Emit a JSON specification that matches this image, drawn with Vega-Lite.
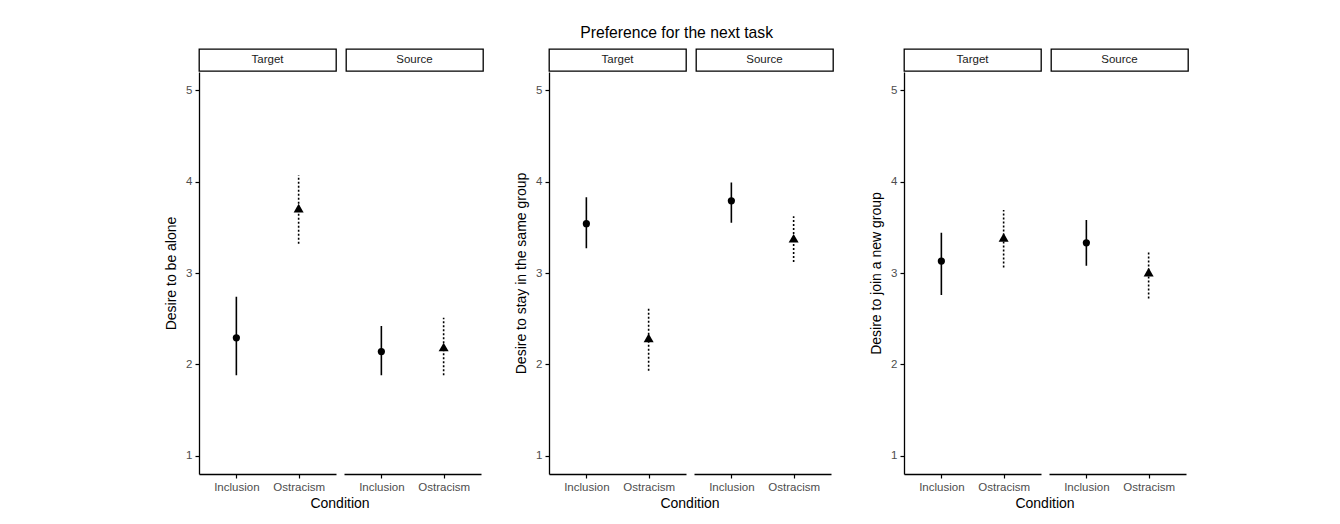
{
  "$schema": "https://vega.github.io/schema/vega-lite/v6.json",
  "background": "white",
  "padding": {"left": 164, "top": 24, "right": 5, "bottom": 5},
  "title": {"text": "Preference for the next task", "fontSize": 15.7, "font": "Liberation Sans", "fontWeight": "normal", "anchor": "middle", "color": "black", "offset": 7},
  "datasets": {
    "strips": [{"role": "Target"}, {"role": "Source"}],
    "alone": [
      {"role": "Target", "condition": "Inclusion", "mean": 2.29, "lo": 1.88, "hi": 2.74},
      {"role": "Target", "condition": "Ostracism", "mean": 3.71, "lo": 3.32, "hi": 4.07},
      {"role": "Source", "condition": "Inclusion", "mean": 2.14, "lo": 1.88, "hi": 2.42},
      {"role": "Source", "condition": "Ostracism", "mean": 2.19, "lo": 1.88, "hi": 2.51}
    ],
    "same": [
      {"role": "Target", "condition": "Inclusion", "mean": 3.54, "lo": 3.27, "hi": 3.83},
      {"role": "Target", "condition": "Ostracism", "mean": 2.29, "lo": 1.93, "hi": 2.63},
      {"role": "Source", "condition": "Inclusion", "mean": 3.79, "lo": 3.55, "hi": 3.99},
      {"role": "Source", "condition": "Ostracism", "mean": 3.38, "lo": 3.12, "hi": 3.62}
    ],
    "newgroup": [
      {"role": "Target", "condition": "Inclusion", "mean": 3.13, "lo": 2.76, "hi": 3.44},
      {"role": "Target", "condition": "Ostracism", "mean": 3.39, "lo": 3.06, "hi": 3.69},
      {"role": "Source", "condition": "Inclusion", "mean": 3.33, "lo": 3.08, "hi": 3.58},
      {"role": "Source", "condition": "Ostracism", "mean": 3.01, "lo": 2.72, "hi": 3.23}
    ]
  },
  "hconcat": [
    {
      "hconcat": [
        {
          "vconcat": [
            {
              "data": {"name": "strips"},
              "facet": {"column": {"field": "role", "type": "nominal", "sort": ["Target", "Source"], "header": {"labels": false, "title": null}}},
              "spacing": {"column": 8},
              "spec": {
                "width": 137, "height": 22,
                "view": {"stroke": "black", "strokeWidth": 1.3, "fill": "white"},
                "mark": {"type": "text", "fontSize": 11.5, "font": "Liberation Sans", "color": "#1a1a1a"},
                "encoding": {"text": {"field": "role", "type": "nominal"}}
              }
            },
            {
              "data": {"name": "alone"},
              "facet": {"column": {"field": "role", "type": "nominal", "sort": ["Target", "Source"], "header": {"labels": false, "title": "Condition", "titleOrient": "bottom", "titleFontSize": 14, "titlePadding": -6}}},
              "spacing": {"column": 8},
              "spec": {
                "width": 137, "height": 402,
                "layer": [
                  {
                    "mark": {"type": "rule", "strokeWidth": 1.6, "color": "black"},
                    "encoding": {
                      "x": {"field": "condition", "type": "nominal", "sort": ["Inclusion", "Ostracism"], "scale": {"type": "point", "padding": 0.6}, "axis": {"labelAngle": 0, "title": null}},
                      "y": {"field": "lo", "type": "quantitative", "scale": {"domain": [0.8, 5.2], "nice": false, "zero": false}, "axis": {"values": [1, 2, 3, 4, 5], "title": "Desire to be alone"}},
                      "y2": {"field": "hi"},
                      "strokeDash": {"field": "condition", "type": "nominal", "scale": {"domain": ["Inclusion", "Ostracism"], "range": [[1, 0], [2, 2]]}, "legend": null}
                    }
                  },
                  {
                    "mark": {"type": "point", "filled": true, "color": "black", "opacity": 1},
                    "encoding": {
                      "x": {"field": "condition", "type": "nominal", "sort": ["Inclusion", "Ostracism"], "axis": {"labelAngle": 0, "title": null}},
                      "y": {"field": "mean", "type": "quantitative", "axis": {"values": [1, 2, 3, 4, 5], "title": "Desire to be alone"}},
                      "shape": {"field": "condition", "type": "nominal", "scale": {"domain": ["Inclusion", "Ostracism"], "range": ["circle", "triangle-up"]}, "legend": null},
                      "size": {"field": "condition", "type": "nominal", "scale": {"domain": ["Inclusion", "Ostracism"], "range": [52, 100]}, "legend": null}
                    }
                  }
                ]
              }
            }
          ],
          "spacing": 0
        },
        {
          "vconcat": [
            {
              "data": {"name": "strips"},
              "facet": {"column": {"field": "role", "type": "nominal", "sort": ["Target", "Source"], "header": {"labels": false, "title": null}}},
              "spacing": {"column": 8},
              "spec": {
                "width": 137, "height": 22,
                "view": {"stroke": "black", "strokeWidth": 1.3, "fill": "white"},
                "mark": {"type": "text", "fontSize": 11.5, "font": "Liberation Sans", "color": "#1a1a1a"},
                "encoding": {"text": {"field": "role", "type": "nominal"}}
              }
            },
            {
              "data": {"name": "same"},
              "facet": {"column": {"field": "role", "type": "nominal", "sort": ["Target", "Source"], "header": {"labels": false, "title": "Condition", "titleOrient": "bottom", "titleFontSize": 14, "titlePadding": -6}}},
              "spacing": {"column": 8},
              "spec": {
                "width": 137, "height": 402,
                "layer": [
                  {
                    "mark": {"type": "rule", "strokeWidth": 1.6, "color": "black"},
                    "encoding": {
                      "x": {"field": "condition", "type": "nominal", "sort": ["Inclusion", "Ostracism"], "scale": {"type": "point", "padding": 0.6}, "axis": {"labelAngle": 0, "title": null}},
                      "y": {"field": "lo", "type": "quantitative", "scale": {"domain": [0.8, 5.2], "nice": false, "zero": false}, "axis": {"values": [1, 2, 3, 4, 5], "title": "Desire to stay in the same group"}},
                      "y2": {"field": "hi"},
                      "strokeDash": {"field": "condition", "type": "nominal", "scale": {"domain": ["Inclusion", "Ostracism"], "range": [[1, 0], [2, 2]]}, "legend": null}
                    }
                  },
                  {
                    "mark": {"type": "point", "filled": true, "color": "black", "opacity": 1},
                    "encoding": {
                      "x": {"field": "condition", "type": "nominal", "sort": ["Inclusion", "Ostracism"], "axis": {"labelAngle": 0, "title": null}},
                      "y": {"field": "mean", "type": "quantitative", "axis": {"values": [1, 2, 3, 4, 5], "title": "Desire to stay in the same group"}},
                      "shape": {"field": "condition", "type": "nominal", "scale": {"domain": ["Inclusion", "Ostracism"], "range": ["circle", "triangle-up"]}, "legend": null},
                      "size": {"field": "condition", "type": "nominal", "scale": {"domain": ["Inclusion", "Ostracism"], "range": [52, 100]}, "legend": null}
                    }
                  }
                ]
              }
            }
          ],
          "spacing": 0
        }
      ],
      "spacing": 30
    },
    {
      "vconcat": [
        {
          "data": {"name": "strips"},
          "facet": {"column": {"field": "role", "type": "nominal", "sort": ["Target", "Source"], "header": {"labels": false, "title": null}}},
          "spacing": {"column": 8},
          "spec": {
            "width": 137, "height": 22,
            "view": {"stroke": "black", "strokeWidth": 1.3, "fill": "white"},
            "mark": {"type": "text", "fontSize": 11.5, "font": "Liberation Sans", "color": "#1a1a1a"},
            "encoding": {"text": {"field": "role", "type": "nominal"}}
          }
        },
        {
          "data": {"name": "newgroup"},
          "facet": {"column": {"field": "role", "type": "nominal", "sort": ["Target", "Source"], "header": {"labels": false, "title": "Condition", "titleOrient": "bottom", "titleFontSize": 14, "titlePadding": -6}}},
          "spacing": {"column": 8},
          "spec": {
            "width": 137, "height": 402,
            "layer": [
              {
                "mark": {"type": "rule", "strokeWidth": 1.6, "color": "black"},
                "encoding": {
                  "x": {"field": "condition", "type": "nominal", "sort": ["Inclusion", "Ostracism"], "scale": {"type": "point", "padding": 0.6}, "axis": {"labelAngle": 0, "title": null}},
                  "y": {"field": "lo", "type": "quantitative", "scale": {"domain": [0.8, 5.2], "nice": false, "zero": false}, "axis": {"values": [1, 2, 3, 4, 5], "title": "Desire to join a new group"}},
                  "y2": {"field": "hi"},
                  "strokeDash": {"field": "condition", "type": "nominal", "scale": {"domain": ["Inclusion", "Ostracism"], "range": [[1, 0], [2, 2]]}, "legend": null}
                }
              },
              {
                "mark": {"type": "point", "filled": true, "color": "black", "opacity": 1},
                "encoding": {
                  "x": {"field": "condition", "type": "nominal", "sort": ["Inclusion", "Ostracism"], "axis": {"labelAngle": 0, "title": null}},
                  "y": {"field": "mean", "type": "quantitative", "axis": {"values": [1, 2, 3, 4, 5], "title": "Desire to join a new group"}},
                  "shape": {"field": "condition", "type": "nominal", "scale": {"domain": ["Inclusion", "Ostracism"], "range": ["circle", "triangle-up"]}, "legend": null},
                  "size": {"field": "condition", "type": "nominal", "scale": {"domain": ["Inclusion", "Ostracism"], "range": [52, 100]}, "legend": null}
                }
              }
            ]
          }
        }
      ],
      "spacing": 0
    }
  ],
  "spacing": 35,
  "config": {
    "view": {"stroke": null},
    "font": "Liberation Sans",
    "axis": {
      "domainColor": "black", "domainWidth": 1.3, "tickColor": "black", "tickWidth": 1.2, "tickSize": 4,
      "labelFont": "Liberation Sans", "labelFontSize": 11.5, "labelColor": "#4d4d4d", "labelPadding": 3,
      "titleFont": "Liberation Sans", "titleFontSize": 14, "titleFontWeight": "normal", "titleColor": "black",
      "grid": false, "titlePadding": 7
    },
    "header": {"titleFont": "Liberation Sans", "titleFontSize": 14, "titleFontWeight": "normal", "titleColor": "black"}
  }
}
